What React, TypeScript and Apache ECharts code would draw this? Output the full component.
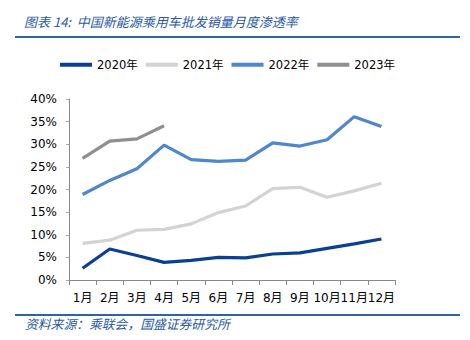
import React, { useEffect, useRef } from "react";
import * as echarts from "echarts";

const months = ["1月", "2月", "3月", "4月", "5月", "6月", "7月", "8月", "9月", "10月", "11月", "12月"];
const s2020 = [2.6, 6.85, 5.4, 3.9, 4.35, 5.0, 4.9, 5.75, 6.0, 7.0, 8.0, 9.05];
const s2021 = [8.1, 8.8, 11.0, 11.2, 12.4, 14.9, 16.35, 20.2, 20.5, 18.3, 19.7, 21.4];
const s2022 = [18.9, 22.0, 24.6, 29.8, 26.6, 26.2, 26.5, 30.3, 29.6, 31.0, 36.1, 33.9];
const s2023 = [26.9, 30.7, 31.2, 34.1];
const seriesNames = ["2020年", "2021年", "2022年", "2023年"];
const colors = ["#0b3f93", "#d3d3d3", "#4f86cc", "#8f8f8f"];
const title = "图表 14:  中国新能源乘用车批发销量月度渗透率";
const source = "资料来源：乘联会，国盛证券研究所";

export default function App() {
  const ref = useRef<HTMLDivElement>(null);
  useEffect(() => {
    const chart = echarts.init(ref.current!, null, { renderer: "svg" });
    const data = [s2020, s2021, s2022, s2023];
    chart.setOption({
      animation: false,
      backgroundColor: "#ffffff",
      textStyle: { fontFamily: "DejaVu Sans, Noto Sans CJK SC" },
      grid: { left: 69, right: 75, top: 99, bottom: 60 },
      legend: {
        left: 55,
        top: 54,
        icon: "rect",
        itemWidth: 32,
        itemHeight: 4,
        itemGap: 8,
        textStyle: { fontSize: 11.5, color: "#000", fontFamily: "DejaVu Sans, Noto Sans CJK SC" },
        data: seriesNames,
      },
      xAxis: {
        type: "category",
        data: months,
        boundaryGap: true,
        axisLine: { lineStyle: { color: "#888", width: 1 } },
        axisTick: { show: true, length: 5, lineStyle: { color: "#888" } },
        axisLabel: { color: "#000", fontSize: 12, margin: 12, interval: 0 },
      },
      yAxis: {
        type: "value",
        min: 0,
        max: 40,
        interval: 5,
        axisLine: { show: true, lineStyle: { color: "#888", width: 1 } },
        axisTick: { show: true, length: 3, lineStyle: { color: "#aaa" } },
        splitLine: { show: false },
        axisLabel: { color: "#000", fontSize: 12, margin: 12, formatter: "{value}%" },
      },
      series: data.map((d, i) => ({
        name: seriesNames[i],
        type: "line",
        data: d,
        symbol: "none",
        lineStyle: { width: 3.2, color: colors[i] },
        itemStyle: { color: colors[i] },
        z: i,
      })),
      graphic: [
        {
          type: "text",
          left: 24,
          top: 15,
          style: {
            text: title,
            fontSize: 13,
            fontStyle: "italic",
            fill: "#2a5aa3",
            fontFamily: "Noto Sans CJK SC",
          },
        },
        { type: "rect", shape: { x: 15, y: 36, width: 445, height: 2 }, style: { fill: "#2f62ae" } },
        { type: "rect", shape: { x: 15, y: 314, width: 445, height: 2 }, style: { fill: "#2f62ae" } },
        {
          type: "text",
          left: 25,
          top: 317,
          style: {
            text: source,
            fontSize: 12.8,
            fontStyle: "italic",
            fill: "#2a5aa3",
            fontFamily: "Noto Sans CJK SC",
          },
        },
      ],
    });
    return () => chart.dispose();
  }, []);
  return (
    <div
      ref={ref}
      style={{ position: "absolute", left: 0, top: 0, width: 470, height: 340 }}
    />
  );
}
